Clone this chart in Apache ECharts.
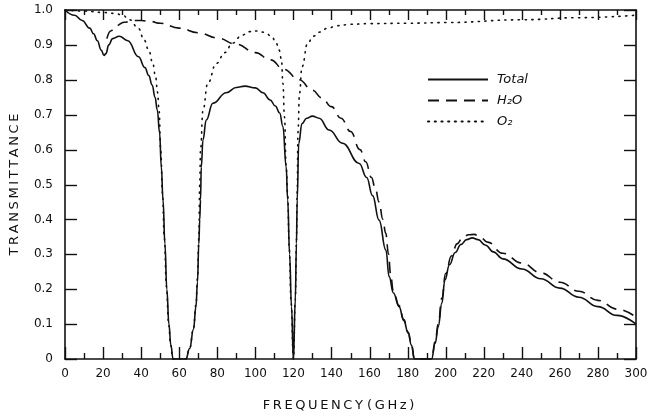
<!DOCTYPE html>
<html>
<head>
<meta charset="utf-8">
<script src="https://cdn.jsdelivr.net/npm/echarts@6/dist/echarts.min.js"></script>
<style>
  html, body { margin: 0; padding: 0; background: #fff; }
  #main { width: 651px; height: 420px; }
</style>
</head>
<body>
<div id="main"></div>
<script>
// frequency (GHz) / transmittance
var totalFreq  = [0, 5, 9, 13, 15, 17, 19, 20.5, 21.5, 23, 25, 28.5, 33, 38.6, 42, 44, 45.8, 47.3, 48.5, 49.7, 50.6, 51.5, 52.5, 53.5, 54.6, 55.6, 56.8,
                  63.5, 65.5, 67.5, 68.8, 69.6, 70.3, 70.8, 71.2, 71.6, 72.5, 74.2, 77.7, 84.7, 90, 94.5, 100, 104, 107.8, 110.5, 112.8, 114.5, 116.2, 117, 118, 119, 120,
                  121, 121.6, 122, 122.8, 124.5, 127, 130, 133.5, 138.8, 145.8, 154.6, 158.5, 161.6, 165, 168.6, 170.3, 172.5, 175.5, 178, 180.3, 182, 183.6,
                  192.6, 194.5, 196.1, 198, 199.6, 202, 205, 208, 211, 214, 217, 221, 225, 230, 240, 250, 260, 270, 280, 290, 300];
var totalTrans = [1.0, 0.985, 0.97, 0.948, 0.932, 0.912, 0.885, 0.87, 0.875, 0.9, 0.918, 0.925, 0.912, 0.866, 0.835, 0.812, 0.785, 0.75, 0.713, 0.648, 0.551, 0.456, 0.33, 0.2, 0.1, 0.04, 0,
                  0, 0.03, 0.085, 0.15, 0.22, 0.33, 0.4, 0.456, 0.55, 0.628, 0.685, 0.733, 0.763, 0.778, 0.782, 0.777, 0.763, 0.742, 0.725, 0.705, 0.666, 0.551, 0.456, 0.3, 0.15, 0,
                  0.17, 0.33, 0.456, 0.618, 0.675, 0.69, 0.696, 0.69, 0.656, 0.618, 0.56, 0.52, 0.468, 0.398, 0.312, 0.236, 0.19, 0.15, 0.11, 0.074, 0.04, 0,
                  0, 0.045, 0.093, 0.16, 0.226, 0.27, 0.305, 0.328, 0.342, 0.347, 0.342, 0.326, 0.307, 0.287, 0.258, 0.23, 0.203, 0.177, 0.15, 0.125, 0.1];

var h2oFreq  = [22, 24, 27, 31, 36, 40, 45, 50, 60, 70, 80, 90, 100, 108, 115, 123, 130, 135, 140, 145, 150, 155, 158, 161, 163, 165, 167, 168.5, 170, 171, 172.5,
                175.5, 178, 180.3, 182, 183.6, 192.6, 194.5, 196.1, 198, 200, 203, 206, 209, 212, 215, 218, 222, 230, 240, 250, 260, 270, 280, 290, 300];
var h2oTrans = [0.918, 0.94, 0.955, 0.965, 0.97, 0.97, 0.967, 0.962, 0.948, 0.935, 0.92, 0.902, 0.878, 0.857, 0.83, 0.8, 0.77, 0.748, 0.723, 0.69, 0.652, 0.6, 0.565, 0.52, 0.49, 0.45, 0.4, 0.36, 0.3, 0.245, 0.195,
                0.153, 0.113, 0.077, 0.042, 0, 0, 0.05, 0.1, 0.175, 0.245, 0.295, 0.33, 0.348, 0.356, 0.357, 0.35, 0.335, 0.303, 0.275, 0.247, 0.22, 0.194, 0.168, 0.143, 0.12];

var o2Freq  = [0, 10, 20, 26.5, 30, 34, 38.6, 41.5, 44, 46, 47.6, 48.6, 49.4, 50.3, 51.2, 52.2, 53.3, 54.4, 55.5, 56.6,
               63.5, 65.5, 67.5, 68.8, 69.6, 70.3, 70.8, 71.2, 72.5, 75, 79.5, 84, 88, 93, 97, 101, 105, 108.5, 111, 112.5, 113.7, 114.5, 115.3, 116.2, 117, 117.8, 118.8, 120,
               121, 121.6, 122, 122.4, 123.2, 124.5, 127.5, 130.5, 134, 138, 143, 150, 160, 180, 200, 240, 270, 300];
var o2Trans = [1.0, 0.997, 0.993, 0.99, 0.986, 0.972, 0.947, 0.915, 0.885, 0.85, 0.809, 0.765, 0.713, 0.6, 0.475, 0.345, 0.207, 0.104, 0.04, 0,
               0, 0.031, 0.088, 0.155, 0.23, 0.345, 0.5, 0.6, 0.713, 0.79, 0.847, 0.878, 0.905, 0.928, 0.938, 0.94, 0.936, 0.925, 0.905, 0.885, 0.86, 0.79, 0.694, 0.55, 0.47, 0.32, 0.16, 0,
               0.17, 0.34, 0.48, 0.65, 0.76, 0.837, 0.905, 0.925, 0.937, 0.948, 0.955, 0.959, 0.961, 0.962, 0.964, 0.972, 0.978, 0.985];

// tick positions on the frame
var xMajorTicks = [0, 20, 40, 60, 80, 100, 120, 140, 160, 180, 200, 220, 240, 260, 280, 300];
var xMinorTicks = [10, 30, 50, 70, 90, 110, 130, 150, 170, 190, 210, 230, 250, 270, 290];
var yMajorTicks = [0, 0.1, 0.2, 0.3, 0.4, 0.5, 0.6, 0.7, 0.8, 0.9, 1.0];

var seriesNames = ['Total', 'H\u2082O', 'O\u2082'];

function pairs(xs, ys) {
    return xs.map(function (x, i) { return [x, ys[i]]; });
}
function spaced(s) {
    return s.split('').join('\u2009');
}

var ink = '#111';
var chart = echarts.init(document.getElementById('main'));

// tick rows: [side (0 = x, 1 = y), value, minor flag]
var tickRows = [];
xMajorTicks.forEach(function (v) { tickRows.push([0, v, 0]); });
xMinorTicks.forEach(function (v) { tickRows.push([0, v, 1]); });
yMajorTicks.forEach(function (v) { tickRows.push([1, v, 0]); });

function tickLine(x1, y1, x2, y2) {
    return { type: 'line', shape: { x1: x1, y1: y1, x2: x2, y2: y2 }, style: { stroke: ink, lineWidth: 1.4 } };
}
function renderTick(params, api) {
    var cs = params.coordSys;
    var v = api.value(1);
    var minorTick = api.value(2) === 1;
    var kids;
    if (api.value(0) === 0) {
        var px = Math.round(api.coord([v, 0])[0]) + 0.5;
        var bottom = cs.y + cs.height, top = cs.y;
        kids = [tickLine(px, bottom, px, bottom - (minorTick ? 6 : 12)),
                tickLine(px, top, px, top + (minorTick ? 5 : 10))];
    } else {
        var py = Math.round(api.coord([0, v])[1]) + 0.5;
        var left = cs.x, right = cs.x + cs.width;
        kids = [tickLine(left, py, left + 12, py), tickLine(right, py, right - 12, py)];
    }
    return { type: 'group', children: kids };
}

function frame(extra, isX) {
    var ax = isX ? { type: 'value', min: 0, max: 300, interval: 20 } : { type: 'value', min: 0, max: 1, interval: 0.1 };
    ax.axisLine = { show: true, onZero: false, lineStyle: { color: ink, width: 1.6 } };
    ax.axisTick = { show: false };
    ax.splitLine = { show: false };
    return Object.assign(ax, extra);
}

var option = {
    animation: false,
    grid: { left: 65, right: 15, top: 10, bottom: 61 },
    legend: {
        data: seriesNames,
        orient: 'vertical',
        left: 422,
        top: 68,
        itemWidth: 60,
        itemHeight: 12,
        itemGap: 8,
        itemStyle: { opacity: 0 },
        textStyle: { fontFamily: 'DejaVu Sans', fontStyle: 'italic', fontSize: 13, color: ink, padding: [0, 0, 0, 4] }
    },
    xAxis: [
        frame({
            position: 'bottom',
            name: spaced('FREQUENCY') + ' ' + spaced('(GHz)'),
            nameLocation: 'middle',
            nameGap: 40,
            nameTextStyle: { fontFamily: 'DejaVu Sans', fontSize: 13, color: ink, padding: [0, 24, 0, 0] },
            axisLabel: { margin: 9, fontFamily: 'DejaVu Sans', fontSize: 12, color: ink }
        }, true),
        frame({ position: 'top', axisLabel: { show: false } }, true)
    ],
    yAxis: [
        frame({
            position: 'left',
            name: spaced('TRANSMITTANCE'),
            nameLocation: 'middle',
            nameGap: 44,
            nameRotate: 90,
            nameTextStyle: { fontFamily: 'DejaVu Sans', fontSize: 13, color: ink },
            axisLabel: {
                margin: 12, fontFamily: 'DejaVu Sans', fontSize: 12, color: ink,
                formatter: function (v) { return v === 0 ? '0' : v.toFixed(1); }
            }
        }, false),
        frame({ position: 'right', axisLabel: { show: false } }, false)
    ],
    series: [
        {
            name: seriesNames[0], type: 'line', data: pairs(totalFreq, totalTrans),
            symbol: 'none', smooth: 0.45, smoothMonotone: 'x',
            lineStyle: { color: ink, width: 1.6 }, itemStyle: { color: ink }
        },
        {
            name: seriesNames[1], type: 'line', data: pairs(h2oFreq, h2oTrans),
            symbol: 'none', smooth: 0.45, smoothMonotone: 'x',
            lineStyle: { color: ink, width: 1.6, type: [11, 7] }, itemStyle: { color: ink }
        },
        {
            name: seriesNames[2], type: 'line', data: pairs(o2Freq, o2Trans),
            symbol: 'none', smooth: 0.45, smoothMonotone: 'x',
            lineStyle: { color: ink, width: 1.6, type: [1.2, 5.5], cap: 'round' }, itemStyle: { color: ink }
        },
        {
            name: 'ticks', type: 'custom', data: tickRows,
            encode: { x: 1, y: 1 },
            renderItem: renderTick,
            clip: false, silent: true, z: 1
        }
    ]
};
chart.setOption(option);
</script>
</body>
</html>
